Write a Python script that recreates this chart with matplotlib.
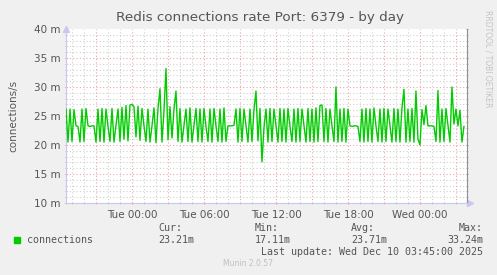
import matplotlib
matplotlib.use('Agg')
import matplotlib.pyplot as plt
import numpy as np

# data: 10 minute samples, hours relative to Tue 00:00
start_hour = -5.5
step_hours = 1.0 / 6
conn_rate = [
    26.2, 20.5, 26.2, 20.6, 26.1, 23.3, 23.2, 20.5, 26.2, 20.6,
    26.3, 23.3, 23.2, 23.3, 23.3, 20.5, 26.2, 20.6, 26.3, 20.5,
    26.2, 23.2, 20.6, 26.3, 20.5, 23.4, 26.2, 20.6, 26.5, 21.0,
    26.8, 20.7, 26.9, 27.0, 26.6, 21.4, 26.7, 20.8, 26.3, 23.3,
    20.6, 26.2, 20.5, 23.3, 26.4, 20.4, 26.3, 29.7, 20.5, 25.9,
    33.2, 20.9, 26.6, 21.2, 26.2, 29.3, 20.6, 26.3, 20.5, 23.3,
    26.2, 20.6, 26.4, 20.5, 23.4, 26.3, 20.6, 26.2, 20.5, 26.3,
    23.2, 20.6, 26.2, 20.5, 26.3, 23.3, 20.6, 26.2, 20.5, 26.4,
    20.6, 23.3, 23.3, 23.3, 23.4, 26.2, 20.5, 26.3, 20.6, 26.2,
    23.3, 20.5, 26.2, 20.6, 26.1, 29.3, 20.7, 26.3, 17.1, 23.0,
    26.2, 20.5, 26.3, 20.6, 26.2, 23.3, 20.5, 26.3, 20.6, 26.2,
    20.5, 26.3, 23.2, 20.6, 26.2, 20.5, 26.3, 20.6, 26.2, 23.3,
    20.5, 26.3, 20.6, 26.2, 20.5, 26.4, 20.6, 26.8, 26.9, 20.6,
    26.3, 20.5, 26.2, 23.3, 20.6, 30.0, 20.5, 26.2, 20.6, 26.3,
    20.5, 26.2, 23.3, 23.2, 23.3, 23.3, 23.2, 20.6, 26.2, 20.5,
    26.3, 20.6, 26.2, 20.5, 26.4, 23.3, 20.6, 26.2, 20.5, 26.3,
    20.6, 26.2, 23.4, 20.5, 26.3, 20.6, 26.2, 20.5, 26.4, 29.6,
    20.5, 26.2, 20.6, 26.3, 20.5, 29.3, 21.0, 20.0, 26.1, 23.5,
    26.8, 23.3, 23.3, 23.3, 23.2, 20.6, 29.4, 20.5, 26.2, 20.6,
    26.3, 23.4, 20.5, 30.0, 23.6, 26.2, 23.3, 26.0, 20.5, 23.2,
]
x_tick_hours = [0, 6, 12, 18, 24]
x_tick_labels = ['Tue 00:00', 'Tue 06:00', 'Tue 12:00', 'Tue 18:00', 'Wed 00:00']
y_ticks = [10, 15, 20, 25, 30, 35, 40]
legend_stats = {'Cur:': '23.21m', 'Min:': '17.11m', 'Avg:': '23.71m', 'Max:': '33.24m'}

W, H = 497, 275
BG = '#f0f0f0'
TXT = '#555555'
AXIS = '#c8c8f0'
GREEN = '#00cc00'
RED_GRID = '#eda6a6'
GRAY_GRID = '#d0d0d0'

hours = start_hour + step_hours * np.arange(len(conn_rate))

fig = plt.figure(figsize=(W / 100, H / 100), dpi=100, facecolor=BG)
ax = fig.add_axes([66 / W, (H - 203) / H, 401 / W, 174 / H])
ax.set_facecolor('white')


def fx(px):
    return px / W


def fy(py):
    return 1 - py / H


x0, x1 = -5.5, 27.92
ax.set_xlim(x0, x1)
ax.set_ylim(10, 40)

# grid: minor gray dotted, major red dotted
for h in np.arange(-5, 28, 1):
    major = (h % 3 == 0)
    ax.axvline(h, color=RED_GRID if major else GRAY_GRID, lw=0.8,
               ls=(0, (1, 2)), zorder=1)
for v in range(11, 40):
    major = (v % 5 == 0)
    ax.axhline(v, color=RED_GRID if major else GRAY_GRID, lw=0.8,
               ls=(0, (1, 2)), zorder=1)

ax.plot(hours, conn_rate, color=GREEN, lw=1.0, zorder=3)

# axes decorations
ax.spines['top'].set_visible(False)
ax.spines['left'].set_color(AXIS)
ax.spines['bottom'].set_color(AXIS)
ax.spines['right'].set_color('#909090')
ax.plot([0], [1.0], marker='^', color=AXIS, ms=4, transform=ax.transAxes, clip_on=False)
ax.plot([1.008], [0], marker='>', color=AXIS, ms=4, transform=ax.transAxes, clip_on=False)

ax.set_xticks(x_tick_hours)
ax.set_xticklabels(x_tick_labels)
ax.set_xticks([h for h in range(-5, 28) if h % 6 != 0], minor=True)
ax.set_yticks(y_ticks)
ax.set_yticklabels([f'{v} m' for v in y_ticks])
ax.set_yticks([v for v in range(11, 40) if v % 5 != 0], minor=True)
ax.tick_params(axis='both', which='major', length=2, direction='inout',
               colors='#f08080', labelcolor=TXT, labelsize=7.5, pad=3)
ax.tick_params(axis='both', which='minor', length=2, direction='inout',
               colors='#b8b8b8')
ax.tick_params(axis='x', pad=4)
ax.tick_params(axis='y', right=True, which='both')

ax.set_ylabel('connections/s', fontsize=7.5, color=TXT, labelpad=11)

fig.text(fx(260), fy(18), 'Redis connections rate Port: 6379 - by day',
         ha='center', va='center', fontsize=9.7, color=TXT)
fig.text(fx(488), fy(10), 'RRDTOOL / TOBI OETIKER', rotation=270,
         ha='center', va='top', fontsize=5.5, color='#c4c4c4')

# legend
mono = 'DejaVu Sans Mono'
fig.patches.append(plt.Rectangle((fx(14), fy(243)), 6 / W, 6 / H,
                                 transform=fig.transFigure, color=GREEN))
fig.text(fx(27), fy(240), 'connections', family=mono, fontsize=7.2,
         color=TXT, va='center')
stat_x = [158, 255, 351, 483]
for (k, v), sx in zip(legend_stats.items(), stat_x):
    ha = 'right' if k == 'Max:' else 'left'
    fig.text(fx(sx), fy(228), k, family=mono, fontsize=7.2, color=TXT,
             va='center', ha=ha)
    fig.text(fx(sx), fy(240), v, family=mono, fontsize=7.2, color=TXT,
             va='center', ha=ha)
fig.text(fx(483), fy(252), 'Last update: Wed Dec 10 03:45:00 2025',
         family=mono, fontsize=7.2, color=TXT, va='center', ha='right')
fig.text(fx(248), fy(264), 'Munin 2.0.57', fontsize=5.5, color='#c0c0c0',
         ha='center', va='center')

fig.savefig('out.png', dpi=100, facecolor=BG)
